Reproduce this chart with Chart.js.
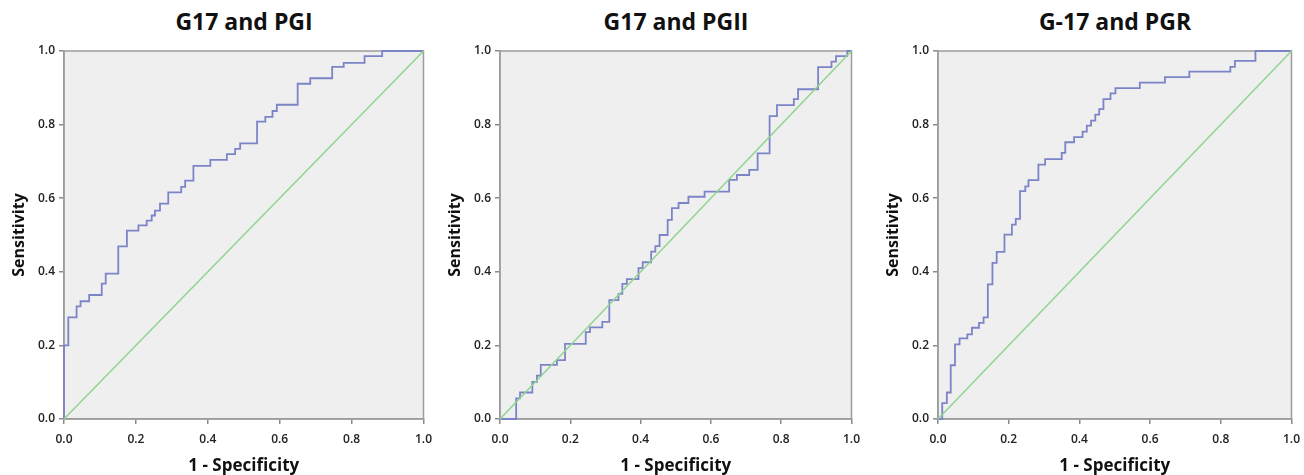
<!DOCTYPE html>
<html><head><meta charset="utf-8">
<script src="https://cdn.jsdelivr.net/npm/chart.js@4/dist/chart.umd.min.js"></script>
<style>
body{margin:0;width:1304px;height:475px;background:#fff;position:relative;overflow:hidden}
.p{position:absolute;top:0;height:475px}
.t{position:absolute;top:6px;font:bold 23px 'Open Sans',sans-serif;line-height:30px;color:#111;text-align:center;white-space:nowrap;width:300px}
</style></head><body>
<div class="t" style="left:94px">G17 and PGI</div>
<div class="t" style="left:526px">G17 and PGII</div>
<div class="t" style="left:965px">G-17 and PGR</div>
<div class="p" style="left:0;width:440px"><canvas id="c1"></canvas></div>
<div class="p" style="left:436px;width:432px"><canvas id="c2"></canvas></div>
<div class="p" style="left:874px;width:434px"><canvas id="c3"></canvas></div>
<script>
const tickValues = [0, 0.2, 0.4, 0.6, 0.8, 1.0];
const refX = [0, 1];
const refY = [0, 1];

const fpr1 = [0,0,0.012,0.035,0.046,0.07,0.105,0.116,0.151,0.175,0.207,0.23,0.244,0.253,0.267,0.29,0.326,0.337,0.36,0.407,0.453,0.476,0.49,0.537,0.56,0.58,0.592,0.65,0.685,0.746,0.778,0.836,0.885,1.0];
const tpr1 = [0,0.2,0.276,0.306,0.32,0.337,0.368,0.395,0.469,0.512,0.526,0.539,0.553,0.566,0.585,0.616,0.631,0.648,0.688,0.704,0.72,0.734,0.749,0.808,0.821,0.837,0.854,0.911,0.926,0.957,0.968,0.986,1.0,1.0];

const fpr2 = [0,0.046,0.057,0.092,0.105,0.116,0.162,0.185,0.244,0.256,0.291,0.311,0.337,0.348,0.361,0.394,0.406,0.43,0.442,0.454,0.477,0.489,0.508,0.536,0.582,0.652,0.674,0.709,0.733,0.767,0.788,0.836,0.848,0.905,0.943,0.956,0.988,1.0];
const tpr2 = [0,0.056,0.072,0.101,0.118,0.147,0.16,0.204,0.236,0.249,0.264,0.323,0.34,0.367,0.38,0.41,0.426,0.455,0.47,0.5,0.541,0.573,0.587,0.604,0.618,0.65,0.663,0.677,0.722,0.823,0.853,0.869,0.896,0.956,0.971,0.986,1.0,1.0];

const fpr3 = [0,0.012,0.025,0.036,0.048,0.061,0.083,0.096,0.116,0.129,0.141,0.154,0.166,0.188,0.209,0.22,0.232,0.247,0.256,0.284,0.303,0.35,0.36,0.385,0.409,0.421,0.433,0.445,0.456,0.468,0.488,0.502,0.571,0.642,0.711,0.827,0.84,0.898,1.0];
const tpr3 = [0,0.043,0.072,0.146,0.203,0.219,0.23,0.248,0.261,0.276,0.366,0.424,0.454,0.501,0.528,0.544,0.619,0.632,0.649,0.691,0.706,0.723,0.752,0.766,0.781,0.797,0.811,0.827,0.842,0.869,0.885,0.899,0.914,0.929,0.944,0.957,0.973,1.0,1.0];

const xTitle = '1 - Specificity';
const yTitle = 'Sensitivity';

const frame = {
  id: 'frame',
  beforeDraw(c) {
    const a = c.chartArea, x = c.ctx;
    x.save(); x.fillStyle = '#efefef';
    x.fillRect(a.left, a.top, a.right - a.left, a.bottom - a.top);
    x.restore();
  },
  beforeDatasetsDraw(c) {
    const a = c.chartArea, x = c.ctx;
    x.save(); x.strokeStyle = '#9c9c9c'; x.lineWidth = 1.5;
    x.strokeRect(a.left, a.top, a.right - a.left, a.bottom - a.top);
    x.restore();
  }
};

const pts = (xs, ys) => xs.map((v, i) => ({x: v, y: ys[i]}));
const tickFont = {family: "'Open Sans', sans-serif", size: 12, weight: '600'};

function axis(title, isX) {
  return {
    type: 'linear', min: 0, max: 1,
    afterBuildTicks: s => { s.ticks = tickValues.map(v => ({value: v})); },
    afterFit: s => { if (isX) s.height = 56; else s.width = 64; },
    ticks: {color: '#222', font: tickFont, padding: isX ? 8 : 4, callback: v => Number(v).toFixed(1), maxRotation: 0, autoSkip: false},
    grid: {drawOnChartArea: false, drawTicks: true, tickLength: 5, color: '#8a8a8a', lineWidth: 1.5},
    border: {display: true, color: '#9c9c9c', width: 1.5},
    title: {display: true, text: title, color: '#111',
      font: {family: "'Open Sans', sans-serif", size: isX ? 17 : 16, weight: 'bold', lineHeight: 1.0},
      padding: isX ? {top: 0, bottom: 0} : {top: 11, bottom: 0}}
  };
}

function make(id, xs, ys, padRight) {
  new Chart(document.getElementById(id), {
    type: 'scatter',
    data: {datasets: [
      {data: pts(refX, refY), showLine: true, borderColor: '#8fd48f', borderWidth: 1.5, pointRadius: 0, clip: 3},
      {data: pts(xs, ys), showLine: true, stepped: 'before', borderColor: '#7c84c8', borderWidth: 1.8, pointRadius: 0, clip: 3}
    ]},
    options: {
      responsive: true, maintainAspectRatio: false, animation: false,
      layout: {padding: {top: 51, right: padRight, left: 0, bottom: 0}},
      plugins: {legend: {display: false}, tooltip: {enabled: false}},
      scales: {x: axis(xTitle, true), y: axis(yTitle, false)}
    },
    plugins: [frame]
  });
}
make('c1', fpr1, tpr1, 7);
make('c2', fpr2, tpr2, 8);
make('c3', fpr3, tpr3, 8);
</script>
</body></html>
